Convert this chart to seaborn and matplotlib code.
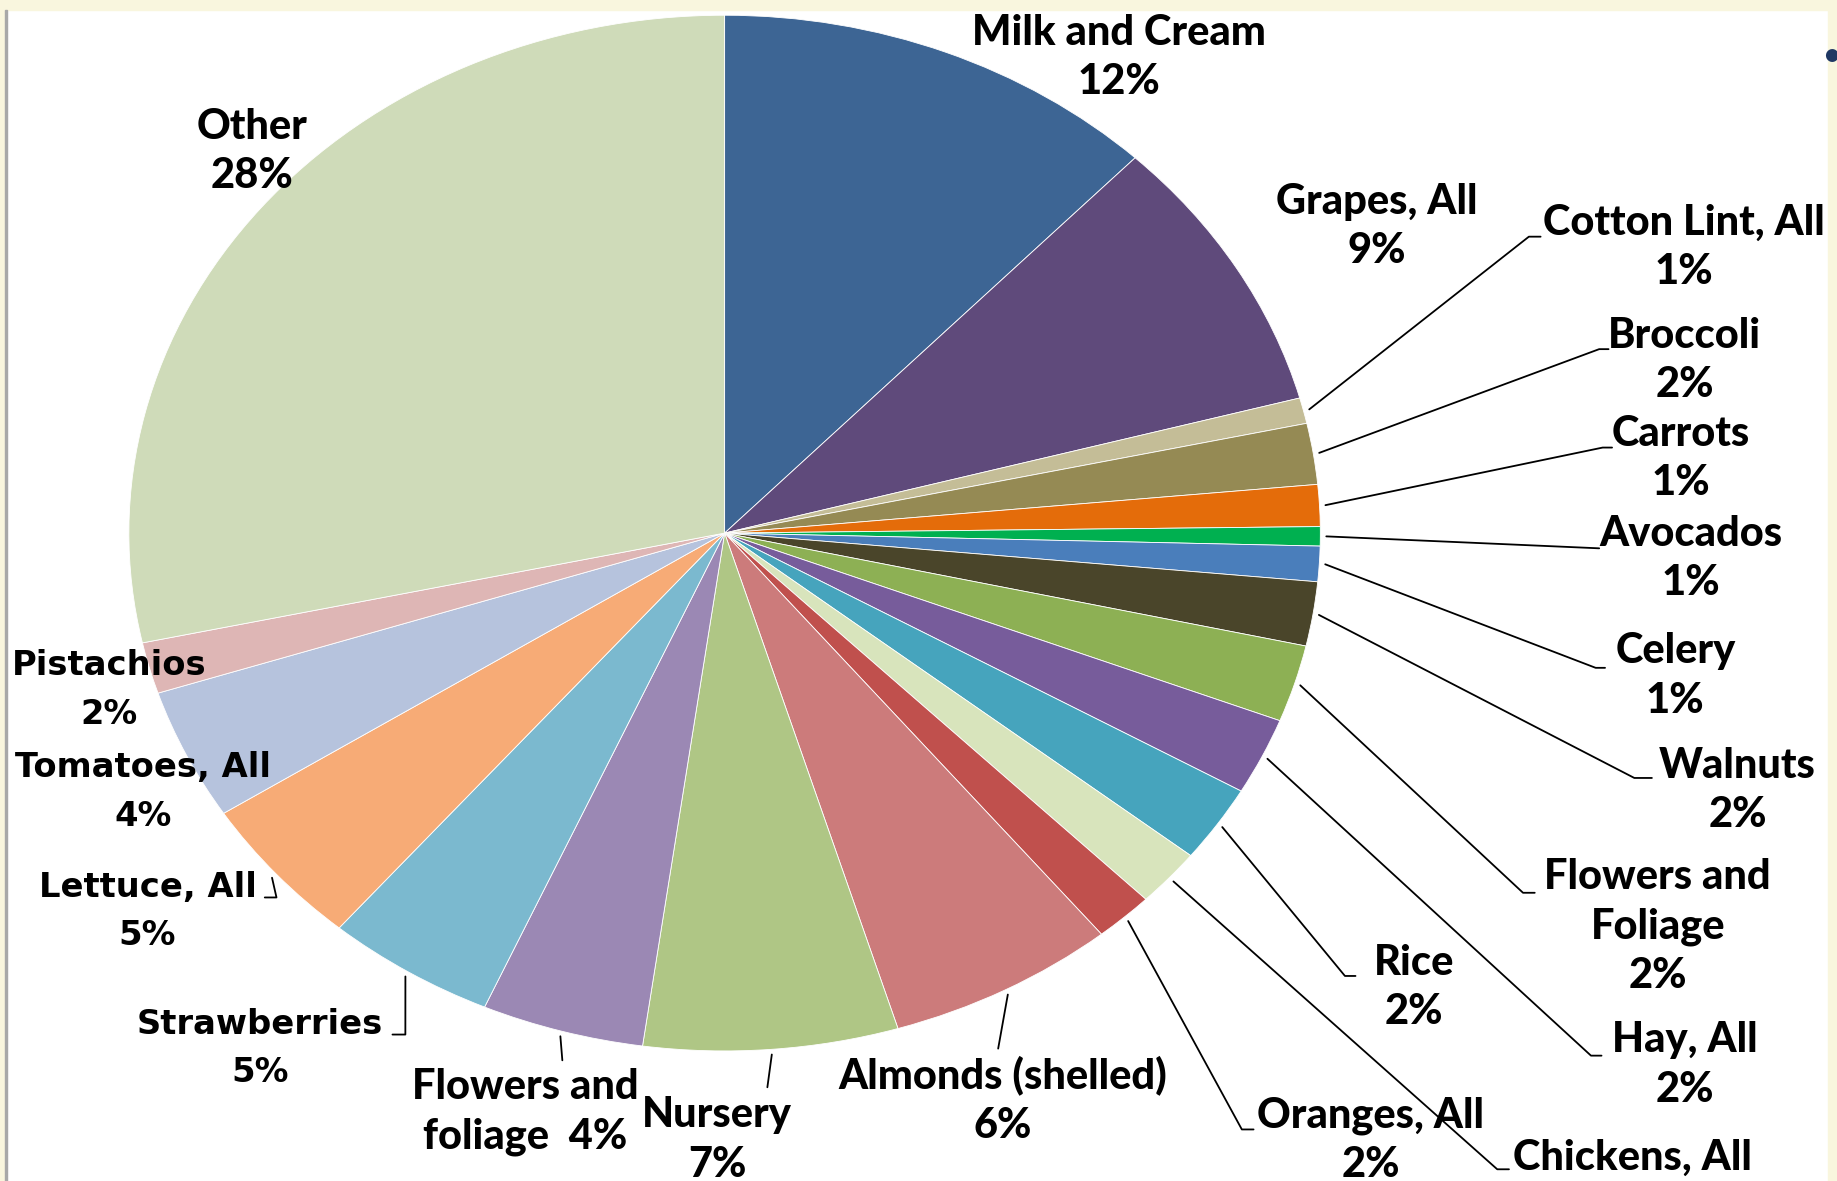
import numpy as np
import seaborn as sns
import matplotlib.pyplot as plt
from matplotlib.lines import Line2D
from matplotlib.patches import Rectangle

# ------------------------------------------------------------
# Data (share of value, percent), clockwise from 12 o'clock
categories = ["Milk and Cream", "Grapes, All", "Cotton Lint, All", "Broccoli", "Carrots",
              "Avocados", "Celery", "Walnuts", "Flowers and Foliage", "Hay, All", "Rice",
              "Chickens, All", "Oranges, All", "Almonds (shelled)", "Nursery",
              "Flowers and foliage", "Strawberries", "Lettuce, All", "Tomatoes, All",
              "Pistachios", "Other"]
shares = [12.1, 8.7, 0.8, 1.9, 1.3, 0.6, 1.1, 2.0, 2.4, 2.4, 2.4, 1.8, 1.6,
          6.2, 6.9, 4.4, 4.6, 4.7, 4.1, 1.6, 28.4]
colors = ["#3D6594", "#5F4A7B", "#C4BD97", "#958A54", "#E46C0A", "#00B050", "#4A7EBB",
          "#4A452A", "#8DB054", "#775C9B", "#46A4BD", "#D8E4BC", "#C0504D", "#CC7B7B",
          "#AFC685", "#9B88B4", "#7BB9CF", "#F7AB76", "#B6C3DD", "#DEB6B5", "#CFDBB9"]

# label text that breaks differently from the plain name
label_names = {"Flowers and Foliage": "Flowers and\nFoliage",
               "Flowers and foliage": "Flowers and\nfoliage  "}
wide_font = {"Strawberries", "Lettuce, All", "Tomatoes, All", "Pistachios"}

# ------------------------------------------------------------
# Layout (reference pixels on a 1568 x 1008 grid)
REF_W, REF_H = 1568, 1008
CX, CY, RX, RY = 618.5, 455.0, 508.5, 442.0

label_pos = {
    "Milk and Cream": (955, 49), "Grapes, All": (1175, 193),
    "Cotton Lint, All": (1437, 211), "Broccoli": (1438, 308),
    "Carrots": (1435, 391), "Avocados": (1443, 477), "Celery": (1430, 577),
    "Walnuts": (1483, 675), "Flowers and Foliage": (1415, 791),
    "Hay, All": (1438, 909), "Rice": (1207, 843), "Chickens, All": (1393, 1009),
    "Oranges, All": (1170, 973), "Almonds (shelled)": (856, 939),
    "Nursery": (612, 973), "Flowers and foliage": (448, 949),
    "Strawberries": (222, 895), "Lettuce, All": (126, 778),
    "Tomatoes, All": (122, 676), "Pistachios": (93, 589), "Other": (215, 129),
}
# leader lines: points after the wedge edge
leaders = {
    "Cotton Lint, All": [(1305, 202), (1315, 202)],
    "Broccoli": [(1365, 298), (1373, 298)],
    "Carrots": [(1368, 382), (1376, 382)],
    "Avocados": [(1365, 468)],
    "Celery": [(1362, 570), (1370, 570)],
    "Walnuts": [(1395, 664), (1410, 664)],
    "Flowers and Foliage": [(1300, 762), (1310, 762)],
    "Hay, All": [(1358, 901), (1367, 901)],
    "Rice": [(1148, 833), (1157, 833)],
    "Chickens, All": [(1278, 998), (1288, 998)],
    "Oranges, All": [(1060, 964), (1070, 964)],
    "Almonds (shelled)": [(852, 895)],
    "Nursery": [(655, 928)],
    "Flowers and foliage": [(480, 905)],
    "Strawberries": [(346, 883), (335, 883)],
    "Lettuce, All": [(236, 766), (226, 766)],
}


def ff(p):
    return (p[0] / REF_W, 1 - p[1] / REF_H)


# ------------------------------------------------------------
sns.set_theme(style="white")
plt.rcParams["font.family"] = ["Lato", "DejaVu Sans"]

fig = plt.figure(figsize=(18.37, 11.81), dpi=100)
fig.patch.set_facecolor("white")
ax = fig.add_axes([0, 0, 1, 1])

ax.pie(shares, colors=sns.color_palette(colors), startangle=90, counterclock=False,
       radius=1, wedgeprops=dict(linewidth=0.6, edgecolor="white"))
ax.set_aspect("auto")
ax.set_xlim(-CX / RX, (REF_W - CX) / RX)
ax.set_ylim(-(REF_H - CY) / RY, CY / RY)
ax.axis("off")

total = float(np.sum(shares))
cum = np.cumsum([0] + shares)
to_fig = fig.transFigure.inverted()

for i, name in enumerate(categories):
    pct = f"{round(shares[i])}%"
    text = label_names.get(name, name)
    text = text + pct if name == "Flowers and foliage" else text + "\n" + pct
    wide = name in wide_font
    fig.text(*ff(label_pos[name]), text, ha="center", va="center",
             multialignment="center", fontweight="black",
             fontsize=24.3 if wide else 30,
             family=["DejaVu Sans"] if wide else ["Lato", "DejaVu Sans"],
             linespacing=1.6 if wide else 1.36, color="black")

    if name in leaders:
        theta = 2 * np.pi * (cum[i] + shares[i] / 2) / total
        r = 1.01
        start = to_fig.transform(ax.transData.transform((r * np.sin(theta), r * np.cos(theta))))
        pts = [tuple(start)] + [ff(p) for p in leaders[name]]
        xs, ys = zip(*pts)
        fig.add_artist(Line2D(xs, ys, color="black", lw=1.3, transform=fig.transFigure))

# slide frame bits
cream = "#F9F6DE"
fig.add_artist(Rectangle((0, 1 - 10 / 1181), 1, 10 / 1181, color=cream,
                         transform=fig.transFigure, zorder=5))
fig.add_artist(Rectangle((0, 0), 5 / 1837, 1, color=cream, transform=fig.transFigure, zorder=5))
fig.add_artist(Rectangle((5 / 1837, 0), 2 / 1837, 1 - 10 / 1181, color="#A8A8A8",
                         transform=fig.transFigure, zorder=5))
fig.add_artist(Rectangle((1828 / 1837, 0), 9 / 1837, 1, color=cream,
                         transform=fig.transFigure, zorder=5))
fig.text(1563 / REF_W, 1 - 47 / REF_H, "\u25CF", color="#1F3864", fontsize=12,
         ha="center", va="center", family=["DejaVu Sans"], zorder=6)

plt.savefig("out.png", dpi=100)
